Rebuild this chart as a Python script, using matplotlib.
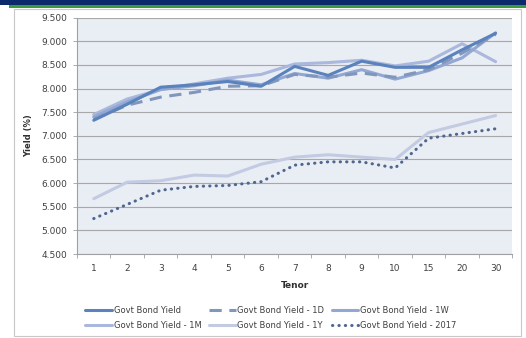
import matplotlib
matplotlib.use("Agg")
import matplotlib.pyplot as plt
from matplotlib.patches import Rectangle
import numpy as np

tenors = ["1", "2", "3", "4", "5", "6", "7", "8", "9", "10", "15", "20", "30"]

yield_now = [7.33, 7.67, 8.03, 8.08, 8.15, 8.05, 8.47, 8.28, 8.58, 8.45, 8.45, 8.82, 9.17]
yield_1d = [7.35, 7.65, 7.82, 7.92, 8.05, 8.06, 8.30, 8.24, 8.33, 8.24, 8.40, 8.75, 9.15]
yield_1w = [7.40, 7.72, 7.98, 8.06, 8.18, 8.08, 8.32, 8.22, 8.40, 8.20, 8.38, 8.65, 9.18]
yield_1m = [7.45, 7.78, 7.98, 8.10, 8.22, 8.30, 8.52, 8.55, 8.60, 8.48, 8.58, 8.95, 8.57]
yield_1y = [5.67, 6.02, 6.05, 6.17, 6.15, 6.40, 6.55, 6.60, 6.55, 6.50, 7.07, 7.25, 7.43]
yield_2017 = [5.25, 5.55, 5.85, 5.93, 5.95, 6.03, 6.38, 6.45, 6.45, 6.32, 6.95, 7.05, 7.15]

series_names = ["Govt Bond Yield", "Govt Bond Yield - 1D", "Govt Bond Yield - 1W",
                "Govt Bond Yield - 1M", "Govt Bond Yield - 1Y", "Govt Bond Yield - 2017"]

fig = plt.figure(figsize=(5.26, 3.38), dpi=100)
fig.patch.set_facecolor("white")

# header band and chart frame
fig.patches.append(Rectangle((0.0, 0.985), 1.0, 0.015, transform=fig.transFigure,
                             facecolor="#0b2a6b", edgecolor="none", zorder=-2))
fig.patches.append(Rectangle((0.018, 0.976), 0.982, 0.009, transform=fig.transFigure,
                             facecolor="#3a9a3e", edgecolor="none", zorder=-2))
fig.patches.append(Rectangle((0.027, 0.005), 0.963, 0.968, transform=fig.transFigure,
                             facecolor="white", edgecolor="#c8c8c8", linewidth=0.8, zorder=-2))

ax = fig.add_axes([0.1464, 0.2485, 0.8276, 0.6991])
ax.set_zorder(2)
ax.set_facecolor("#e9edf4")

x = np.arange(len(tenors))
lw = 2.2
l0, = ax.plot(x, yield_now, color="#5a82bd", lw=lw, solid_capstyle="round", zorder=6)
l1, = ax.plot(x, yield_1d, color="#8196bc", lw=lw, dashes=(4, 2.5), zorder=5)
l2, = ax.plot(x, yield_1w, color="#92a8d2", lw=lw, solid_capstyle="round", zorder=4)
l3, = ax.plot(x, yield_1m, color="#a9b8dc", lw=lw, solid_capstyle="round", zorder=3)
l4, = ax.plot(x, yield_1y, color="#c3cbe3", lw=lw, solid_capstyle="round", zorder=3)
l5, = ax.plot(x, yield_2017, color="#4f668f", lw=lw, linestyle=(0, (0.1, 2.0)),
              dash_capstyle="round", zorder=4)

ax.set_xlim(-0.5, len(tenors) - 0.5)
ax.set_ylim(4.5, 9.5)
ax.set_yticks(np.arange(4.5, 9.51, 0.5))
ax.yaxis.set_major_formatter(matplotlib.ticker.FuncFormatter(lambda v, p: f"{v:.3f}"))
ax.set_xticks(x)
ax.set_xticklabels(tenors)
ax.set_xticks(np.arange(-0.5, len(tenors), 1.0), minor=True)
ax.tick_params(axis="x", which="major", length=0, pad=7, labelsize=6.5, colors="#404040")
ax.tick_params(axis="x", which="minor", length=3, color="#a0a0a0", width=0.6)
ax.tick_params(axis="y", which="major", length=3, color="#a0a0a0", width=0.6,
               labelsize=6.5, colors="#404040", pad=4)

ax.grid(axis="y", color="#a8a8a8", linewidth=0.8)
ax.set_axisbelow(True)
for side in ("top", "right"):
    ax.spines[side].set_visible(False)
for side in ("left", "bottom"):
    ax.spines[side].set_color("#a0a0a0")
    ax.spines[side].set_linewidth(0.8)

ax.set_ylabel("Yield (%)", fontsize=6, fontweight="bold", color="#303030", labelpad=6)
ax.set_xlabel("Tenor", fontsize=6.5, fontweight="bold", color="#303030", labelpad=6)

lines = [l0, l1, l2, l3, l4, l5]
order = [0, 3, 1, 4, 2, 5]
leg = fig.legend([lines[i] for i in order], [series_names[i] for i in order],
                 loc="center", bbox_to_anchor=(0.515, 0.06), ncol=3, frameon=False,
                 fontsize=6.0, handlelength=3.2, handletextpad=0.2, columnspacing=0.9,
                 labelspacing=0.7, labelcolor="#404040")
leg.set_zorder(3)

fig.savefig("out.png", dpi=100, facecolor="white")
